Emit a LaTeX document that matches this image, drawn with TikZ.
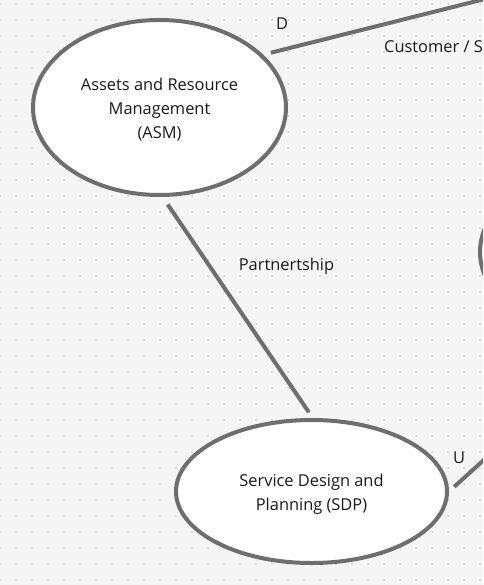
\documentclass[tikz,border=0pt]{standalone}
\usepackage{fontspec}
\setmainfont{Open Sans}
\usepackage{tikz}
\usetikzlibrary{shapes.geometric}

\definecolor{canvas}{HTML}{F5F5F5}
\definecolor{griddot}{HTML}{CDCDCD}
\definecolor{edge}{HTML}{6E6E6E}
\definecolor{ink}{HTML}{1A1A1A}

\tikzset{
  context/.style={ellipse, draw=edge, line width=4pt, fill=white, inner sep=0pt},
  ctxtext/.style={align=center, text=ink, inner sep=0pt, yshift=-2.5pt,
    font=\fontsize{16.4}{24}\selectfont},
  link/.style={draw=edge, line width=4pt},
  tag/.style={text=ink, inner sep=0pt, yshift=-2pt, font=\fontsize{16.4}{18}\selectfont}
}

\begin{document}
\begin{tikzpicture}[x=1pt, y=-1pt]
    % Canvas and dot grid
    \useasboundingbox (0,0) rectangle (483,585);
    \clip (0,0) rectangle (483,585);
    \fill[canvas] (0,0) rectangle (483,585);
    \foreach \i in {0,...,30} {
      \foreach \j in {0,...,36} {
        \fill[griddot] (16*\i,4+16*\j) circle (1pt);
      }
    }

    % Bounded contexts
    \node[context, minimum width=253pt, minimum height=175pt,
      label={[name=asmtext, ctxtext]center:Assets and Resource\\Management\\(ASM)}]
      (asm) at (159.5,107.5) {};
    \node[context, minimum width=271pt, minimum height=143pt,
      label={[name=sdptext, ctxtext]center:Service Design and\\Planning (SDP)}]
      (sdp) at (311.5,491.5) {};
    \node[context, minimum width=268pt, minimum height=176pt] (ext) at (614,252) {};
    \coordinate (up) at (700,-55);

    % Relations
    \draw[link, shorten <=8pt] (asm.27) -- (up);
    \draw[link, shorten <=9pt, shorten >=7pt] (asm.-88) -- (sdp.89);
    \draw[link, shorten <=7pt] (sdp.0) -- (ext.-90);

    % Labels
    \node[tag] (lblD) at (282,22) {D};
    \node[tag, anchor=west] (lblCS) at (384,46) {Customer / Supplier};
    \node[tag] (lblP) at (286.5,264) {Partnertship};
    \node[tag] (lblU) at (459,456) {U};
\end{tikzpicture}
\end{document}
